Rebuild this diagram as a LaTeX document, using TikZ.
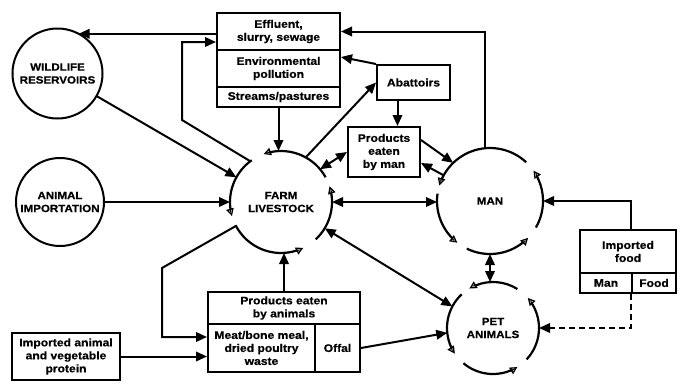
\documentclass[tikz,border=0pt]{standalone}
\usepackage{fontspec}
\setmainfont{Liberation Sans}[FakeStretch=1.1,BoldFeatures={FakeBold=0.6}]
\usetikzlibrary{arrows.meta}
\newcommand\cycarc[4]{%
  \pgfmathsetmacro\cycm{#3-7/#4*57.3}%
  \pgfmathsetmacro\cycn{#3-10/#4*57.3}%
  \draw[cycline] ([shift={(#2:#4pt)}]#1.center) arc[start angle=#2,end angle=\cycm,radius=#4pt];
  \draw[cyctip] ([shift={(\cycn:#4pt)}]#1.center) arc[start angle=\cycn,end angle=#3,radius=#4pt];}
\begin{document}
\begin{tikzpicture}[x=1pt,y=1pt,
  ln/.style={line width=2pt},
  tip/.tip={Triangle[length=11pt,width=9.5pt]},
  arr/.style={ln,-tip},
  darr/.style={ln,tip-tip},
  bx/.style={draw,line width=2pt,inner sep=1pt,align=center,font=\fontsize{11}{13}\selectfont\bfseries},
  circ/.style={circle,inner sep=0pt,outer sep=0pt,align=center,font=\fontsize{10.5}{13}\selectfont\bfseries},
  cycline/.style={line width=2.2pt},
  cyctip/.style={line width=1.3pt,-{Triangle[open,length=7.5pt,width=7.5pt]}}]
\useasboundingbox (0,0) rectangle (680,-383);
% boxes
\node[bx,minimum width=123pt,minimum height=37pt] (eff) at (278.5,-31.5) {Effluent,\\slurry, sewage};
\node[bx,minimum width=123pt,minimum height=37pt] (env) at (278.5,-68.5) {Environmental\\pollution};
\node[bx,minimum width=123pt,minimum height=20pt] (str) at (278.5,-97) {Streams/pastures};
\node[bx,minimum width=73pt,minimum height=35pt] (abat) at (413.5,-82.5) {Abattoirs};
\node[bx,minimum width=72pt,minimum height=50pt] (pem) at (384,-152) {Products\\eaten\\by man};
\node[bx,minimum width=96pt,minimum height=43pt] (ifhead) at (628,-251.5) {Imported\\food};
\node[bx,minimum width=52pt,minimum height=20pt] (ifman) at (606,-283) {Man};
\node[bx,minimum width=44pt,minimum height=20pt] (iffood) at (654,-283) {Food};
\node[bx,minimum width=152pt,minimum height=32pt] (peahead) at (284,-308) {Products eaten\\by animals};
\node[bx,minimum width=107pt,minimum height=48pt] (meat) at (261.5,-348) {Meat/bone meal,\\dried poultry\\waste};
\node[bx,minimum width=45pt,minimum height=48pt] (offal) at (337.5,-348) {Offal};
\node[bx,minimum width=108pt,minimum height=47pt] (iavp) at (66,-356.5) {Imported animal\\and vegetable\\protein};
% circles
\node[circ,draw,line width=2pt,minimum size=90pt] (wild) at (57.5,-73.5) {WILDLIFE\\RESERVOIRS};
\node[circ,draw,line width=2pt,minimum size=88pt] (imp) at (60,-202) {ANIMAL\\IMPORTATION};
\node[circ,minimum size=102pt] (farm) at (281,-202) {FARM\\LIVESTOCK};
\node[circ,minimum size=106pt] (man) at (490,-201) {MAN};
\node[circ,minimum size=92pt] (pet) at (493,-328) {PET\\ANIMALS};
% cycle arcs
\cycarc{farm}{29}{110}{51}
\cycarc{farm}{125}{196}{51}
\cycarc{farm}{207}{296}{51}
\cycarc{farm}{313}{378}{51}
\cycarc{man}{47}{163}{53}
\cycarc{man}{172}{232}{53}
\cycarc{man}{244}{316}{53}
\cycarc{man}{330}{395}{53}
\cycarc{pet}{58}{121}{46}
\cycarc{pet}{133}{214}{46}
\cycarc{pet}{230}{302}{46}
\cycarc{pet}{317}{401}{46}
% connectors
\coordinate (c1) at (182,-120);
\coordinate (c2) at (162,-268);
\draw[arr] (man.95) |- (eff.east);
\draw[arr] (eff.west |- wild.62) -- (wild.62);
\draw[arr] (wild.-30) -- (farm.151);
\draw[arr] (imp.east) -- (imp.east -| farm.west);
\draw[arr] (str.south) -- (str.south |- farm.north);
\draw[arr] (farm.127) -- (c1) |- ([yshift=-10.5pt]eff.west);
\draw[arr] (farm.61) -- (abat.west);
\draw[arr] (abat.north west) -- ([yshift=11.5pt]env.east);
\draw[arr] ([xshift=-16pt]abat.south) -- ([xshift=-16pt]abat.south |- pem.north);
\draw[darr] (farm.40) -- (pem.west);
\draw[arr] ([yshift=12pt]pem.east) -- (man.134);
\draw[arr] (man.151) -- ([yshift=-11pt]pem.east);
\draw[darr] (farm.east) -- (farm.east -| man.west);
\draw[arr] (ifhead.north -| iffood.west) |- (man.east);
\draw[arr,dash pattern=on 6pt off 4pt] (iffood.south west) |- (pet.east);
\draw[darr] (man.south) -- (man.south |- pet.north);
\draw[darr] (farm.-31) -- (pet.152);
\draw[arr] (offal.east) -- (pet.186);
\draw[arr] (peahead.north) -- (peahead.north |- farm.south);
\draw[arr] (farm.208) -- (c2) |- ([yshift=11pt]meat.west);
\draw[arr] (iavp.east) -- (iavp.east -| meat.west);
\end{tikzpicture}
\end{document}
